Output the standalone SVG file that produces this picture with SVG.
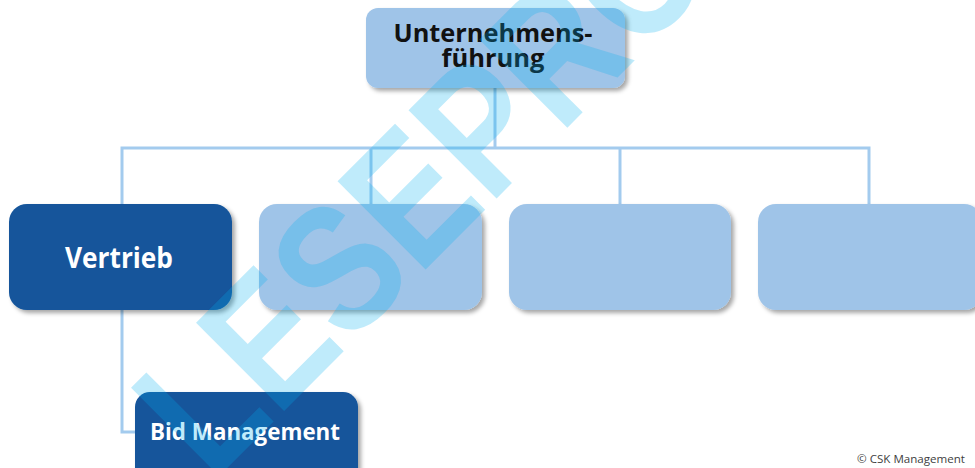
<svg xmlns="http://www.w3.org/2000/svg" width="975" height="468" viewBox="0 0 975 468">
  <style>
    .light { fill: #9fc4e8; }
    .dark { fill: #13549b; }
    .conn { fill: none; stroke: #a3cbee; stroke-width: 3; }
    .lbl { font-family: "Open Sans", "Liberation Sans", sans-serif; font-weight: 700; text-anchor: middle; }
    .wm { font-family: "Liberation Sans", Arial, sans-serif; font-weight: bold; fill: #00b0f0; fill-opacity: 0.25; }
  </style>
  <defs>
    <filter id="sh" x="-10%" y="-10%" width="125%" height="130%">
      <feDropShadow dx="3" dy="3" stdDeviation="2" flood-color="#000" flood-opacity="0.35"/>
    </filter>
  </defs>
  <rect width="975" height="468" fill="#ffffff"/>

  <g id="connectors">
    <path class="conn" d="M495 88 V148"/>
    <path class="conn" d="M122 205 V148 H869 V205"/>
    <path class="conn" d="M371 148 V205"/>
    <path class="conn" d="M620 148 V205"/>
    <path class="conn" d="M122 310 V432 H136"/>
  </g>

  <g id="node-unternehmensfuehrung">
    <rect class="light" x="366" y="8" width="259" height="80" rx="12" filter="url(#sh)"/>
    <text class="lbl" x="493" y="42" font-size="25" fill="#111" textLength="199" lengthAdjust="spacingAndGlyphs">Unternehmens-</text>
    <text class="lbl" x="493" y="67" font-size="25" fill="#111" textLength="103" lengthAdjust="spacingAndGlyphs">führung</text>
  </g>

  <g id="node-vertrieb">
    <rect class="dark" x="9" y="204" width="223" height="106" rx="18" filter="url(#sh)"/>
    <text class="lbl" x="119" y="268" font-size="28" fill="#ffffff" font-weight="600" textLength="108" lengthAdjust="spacingAndGlyphs">Vertrieb</text>
  </g>

  <g id="node-2">
    <rect class="light" x="259" y="204" width="223" height="106" rx="18" filter="url(#sh)"/>
  </g>

  <g id="node-3">
    <rect class="light" x="509" y="204" width="222" height="106" rx="18" filter="url(#sh)"/>
  </g>

  <g id="node-4">
    <rect class="light" x="758" y="204" width="224" height="106" rx="18" filter="url(#sh)"/>
  </g>

  <g id="node-bid-management">
    <rect class="dark" x="135" y="392" width="223" height="100" rx="15" filter="url(#sh)"/>
    <text class="lbl" x="245" y="440" font-size="23" fill="#ffffff" font-weight="600" textLength="190" lengthAdjust="spacingAndGlyphs">Bid Management</text>
  </g>

  <text x="857" y="463" font-family="Open Sans, Liberation Sans, sans-serif" font-size="11" fill="#404040" textLength="108" lengthAdjust="spacingAndGlyphs">© CSK Management</text>

  <text class="wm" font-size="181" transform="translate(212 483) rotate(-45) scale(0.83 1)">LESEPROBE</text>
</svg>
